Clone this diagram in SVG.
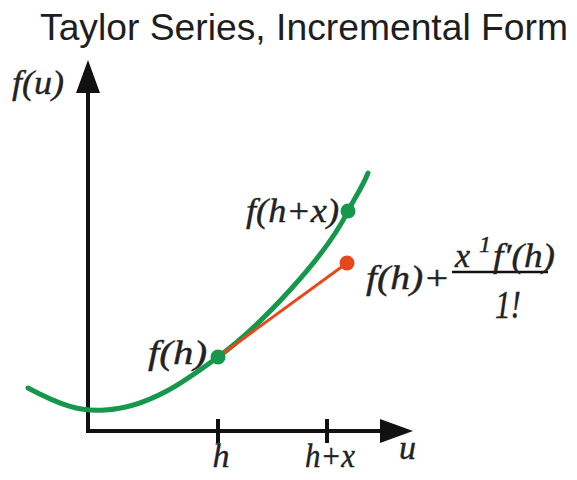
<svg xmlns="http://www.w3.org/2000/svg" width="577" height="480" viewBox="0 0 577 480">
<style>
.title{font-family:"Liberation Sans",Arial,sans-serif;font-size:36px;fill:#1e1e1e}
.m{font-family:"Liberation Serif","Times New Roman",serif;font-style:italic;font-size:34px;fill:#222;stroke:#222;stroke-width:0.4}
.sup{font-size:24px}
.den{font-size:40px}
.axis{stroke:#111;stroke-width:4;fill:none}
.tick{stroke:#111;stroke-width:4}
.curve{stroke:#16984c;stroke-width:5;fill:none;stroke-linecap:round}
.tan{stroke:#e8471d;stroke-width:3;fill:none}
</style>
<rect width="577" height="480" fill="#fff"/>
<text class="title" x="40" y="40" textLength="528" lengthAdjust="spacingAndGlyphs">Taylor Series, Incremental Form</text>
<g id="axes">
<path class="axis" d="M88,88 V431 H384"/>
<polygon points="88,60 100,93 76,93" fill="#111"/>
<polygon points="413,431 380,419 380,443" fill="#111"/>
<line class="tick" x1="218" y1="419" x2="218" y2="443"/>
<line class="tick" x1="327" y1="419" x2="327" y2="443"/>
<text class="m" x="12" y="94" textLength="52" lengthAdjust="spacingAndGlyphs">f(u)</text>
<text class="m" x="221" y="467" text-anchor="middle">h</text>
<text class="m" x="305" y="467" textLength="50" lengthAdjust="spacingAndGlyphs">h+x</text>
<text class="m" x="399" y="459">u</text>
</g>
<g id="connectors">
<path class="curve" d="M28,388 C60,405 80,412 105,410 C150,408 190,377.5 218,357 C258,328 325,258 348,211 C355,197 362,188 368,173"/>
<line class="tan" x1="218" y1="357" x2="347" y2="263"/>
</g>
<g id="fh">
<circle cx="218" cy="357" r="7.5" fill="#16984c"/>
<text class="m" x="148" y="364" textLength="59" lengthAdjust="spacingAndGlyphs">f(h)</text>
</g>
<g id="fhx">
<circle cx="348" cy="211" r="7.5" fill="#16984c"/>
<text class="m" x="246" y="222" textLength="93" lengthAdjust="spacingAndGlyphs">f(h+x)</text>
</g>
<g id="approx">
<circle cx="347" cy="263" r="7.5" fill="#e8471d"/>
<text class="m" x="366" y="289" textLength="84" lengthAdjust="spacingAndGlyphs">f(h)+</text>
<line x1="452" y1="272" x2="548" y2="272" stroke="#111" stroke-width="2.5"/>
<text class="m" x="455" y="267">x</text>
<text class="m sup" x="479" y="252">1</text>
<text class="m" x="493" y="267" textLength="62" lengthAdjust="spacingAndGlyphs">f′(h)</text>
<text class="m den" x="495" y="318" textLength="26" lengthAdjust="spacingAndGlyphs">1!</text>
</g>
</svg>
